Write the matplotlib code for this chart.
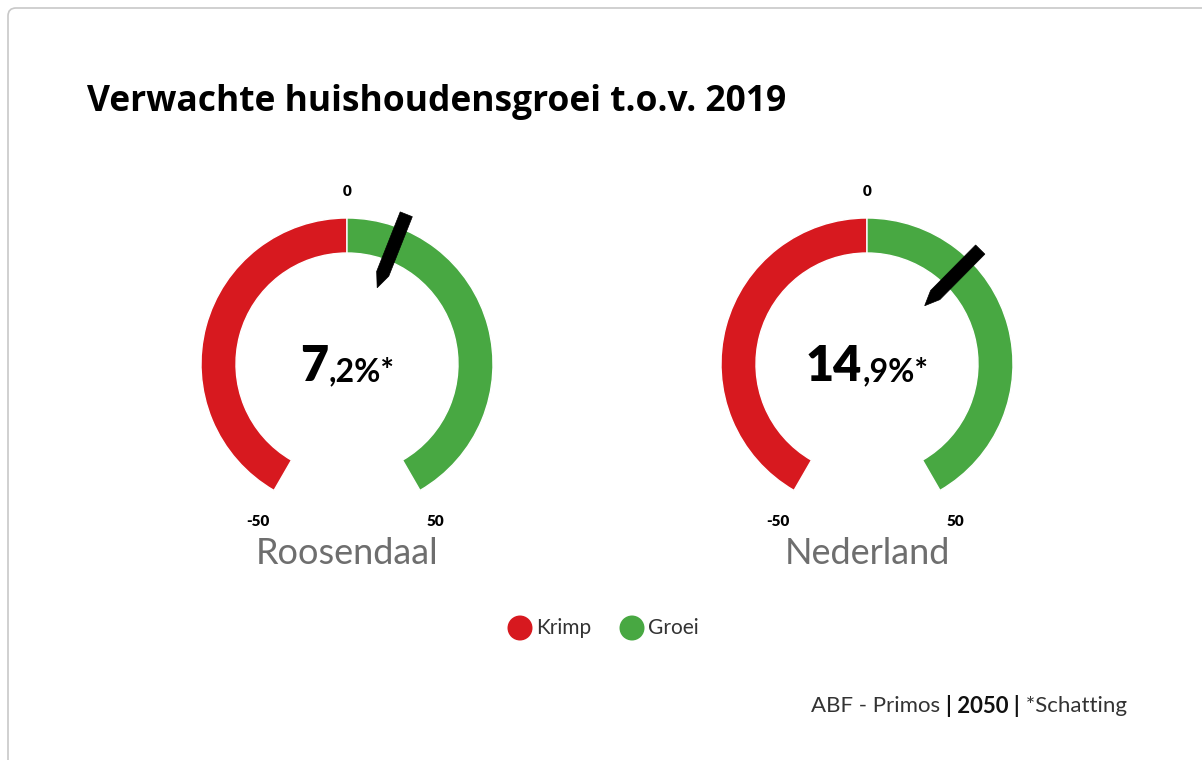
import numpy as np
import matplotlib.pyplot as plt
from matplotlib.patches import Wedge, Polygon, Circle, FancyBboxPatch

# Data
regions = ['Roosendaal', 'Nederland']
values = [7.2, 14.9]
int_parts = ['7', '14']
dec_parts = [',2%*', ',9%*']
scale_min, scale_max = -50, 50
bands = [('Krimp', -50, 0, '#d7191f'), ('Groei', 0, 50, '#48a842')]

W, H = 1202, 760
fig = plt.figure(figsize=(W / 100, H / 100), dpi=100)
ax = fig.add_axes([0, 0, 1, 1])
ax.set_xlim(0, W)
ax.set_ylim(0, H)
ax.axis('off')

# frame (only left/top visible)
ax.add_patch(FancyBboxPatch((8, -100), 1400, H - 8 + 100,
                            boxstyle='round,pad=0,rounding_size=8',
                            fc='white', ec='#c8c8c8', lw=1.2))

def ang(v):
    # degrees, counterclockwise from +x; range spans 300 degrees
    return 90 - (v / scale_max) * 150

centers_x = [347, 867]
cy = H - 364
r_out, r_in = 146, 111

fig.canvas.draw()
renderer = fig.canvas.get_renderer()

for cx, name, val, ip, dp in zip(centers_x, regions, values, int_parts, dec_parts):
    for lab, lo, hi, col in bands:
        ax.add_patch(Wedge((cx, cy), r_out, ang(hi), ang(lo), width=r_out - r_in,
                           fc=col, ec='white', lw=1))
    # needle
    a = np.deg2rad(ang(val))
    d = np.array([np.cos(a), np.sin(a)])
    p = np.array([-np.sin(a), np.cos(a)])
    hw = 6.5
    local = [(82, 0), (97, hw), (161, hw), (161, -hw), (97, -hw)]
    poly = [(cx + r * d[0] + w * p[0], cy + r * d[1] + w * p[1]) for r, w in local]
    ax.add_patch(Polygon(poly, closed=True, fc='black', ec='black', lw=0.5))

    # scale labels
    ax.text(cx, H - 192, '0', ha='center', va='center', fontsize=11,
            fontweight='heavy', family='Lato')
    ax.text(cx - 89, H - 521, str(scale_min), ha='center', va='center', fontsize=11,
            fontweight='heavy', family='Lato')
    ax.text(cx + 88, H - 521, str(scale_max), ha='center', va='center', fontsize=11,
            fontweight='heavy', family='Lato')
    ax.text(cx, H - 553, name, ha='center', va='center', fontsize=26,
            family='Lato', fontweight='normal', color='#6e6e6e')

    # value in the centre, two sizes
    t1 = ax.text(0, cy - 17, ip, ha='left', va='baseline', fontsize=35,
                 fontweight='heavy', family='Lato')
    t2 = ax.text(0, cy - 17, dp, ha='left', va='baseline', fontsize=23,
                 fontweight='bold', family='Lato')
    w1 = t1.get_window_extent(renderer).width
    w2 = t2.get_window_extent(renderer).width
    x0 = cx - (w1 + w2) / 2
    t1.set_x(x0)
    t2.set_x(x0 + w1 + 1)

# title
ax.text(87, H - 102, 'Verwachte huishoudensgroei t.o.v. 2019', ha='left', va='center',
        fontsize=25.5, fontweight='bold', family='Open Sans')

# legend
leg_x = [520, 632]
for (lab, lo, hi, col), lx in zip(bands, leg_x):
    ax.add_patch(Circle((lx, H - 628), 12.5, fc=col, ec='none'))
    ax.text(lx + 16, H - 628, lab, ha='left', va='center', fontsize=15,
            family='Lato', color='#333333')

# source
s1 = ax.text(0, H - 706, 'ABF - Primos ', ha='left', va='center', fontsize=16,
             family='Lato', color='#333333')
s2 = ax.text(0, H - 706, '| 2050 |', ha='left', va='center', fontsize=16,
             family='Lato', fontweight='bold', color='#111111')
s3 = ax.text(0, H - 706, ' *Schatting', ha='left', va='center', fontsize=16,
             family='Lato', color='#333333')
ws = [t.get_window_extent(renderer).width for t in (s1, s2, s3)]
x = 1127 - sum(ws)
for t, w in zip((s1, s2, s3), ws):
    t.set_x(x)
    x += w

fig.savefig('out.png', dpi=100, facecolor='white')
